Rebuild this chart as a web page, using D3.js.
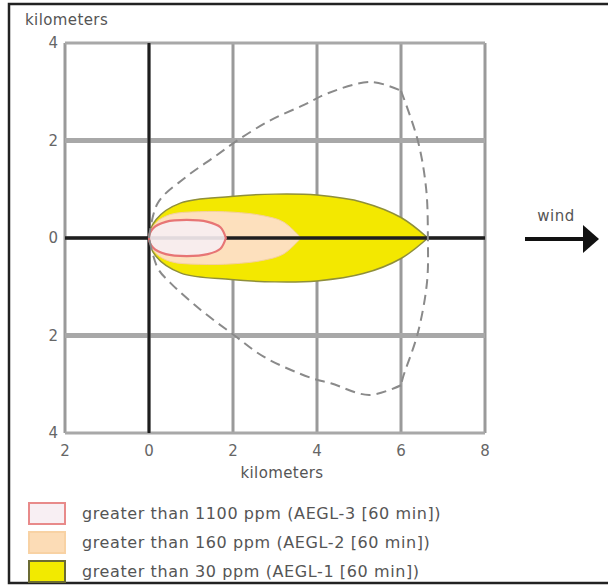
<!DOCTYPE html>
<html>
<head>
<meta charset="utf-8">
<script src="https://cdn.jsdelivr.net/npm/d3@7"></script>
<style>
  body { margin: 0; background: #fff; }
  svg { display: block; }
</style>
</head>
<body>
<div id="chart"></div>
<script>
"use strict";

// ticks (km)
const xTicks = [-2, 0, 2, 4, 6, 8]
const yTicks = [-4, -2, 0, 2, 4]

// threat zones, half width of the plume along the wind (km)
const aegl1 = [[0,0],[0.17,0.38],[0.76,0.72],[1.95,0.85],[3.0,0.9],[4.0,0.88],[5.1,0.73],[6.0,0.42],[6.64,0]]
const aegl2 = [[0,0],[0.15,0.3],[0.5,0.48],[1.2,0.54],[2.0,0.53],[2.7,0.46],[3.2,0.33],[3.62,0]]
const aegl3 = [[0,0],[0.1,0.2],[0.4,0.33],[0.9,0.37],[1.4,0.33],[1.7,0.22],[1.83,0]]

// confidence lines (dashed), split at the corners
const confUpper = [[0,0],[0.21,0.72],[0.88,1.25],[1.55,1.66],[2.12,2.01],[2.9,2.42],[3.69,2.73],[4.26,2.97],[5.29,3.2],[6.0,3.02]]
const confRight = [[6.0,3.02],[6.4,2.0],[6.6,1.0],[6.64,0],[6.62,-0.9],[6.4,-1.95],[6.05,-2.85],[6.0,-3.02]]
const confLower = [[6.0,-3.02],[5.24,-3.22],[4.33,-2.98],[3.86,-2.87],[2.74,-2.44],[2.02,-1.99],[1.24,-1.48],[0.52,-0.93],[0.21,-0.62],[0,0]]

const legendLabels = ["greater than 1100 ppm (AEGL-3 [60 min])",
  "greater than 160 ppm (AEGL-2 [60 min])",
  "greater than 30 ppm (AEGL-1 [60 min])"]

const width = 608, height = 587
const font = "'DejaVu Sans', Verdana, sans-serif"

const svg = d3.select("#chart").append("svg")
  .attr("width", width)
  .attr("height", height)

// outer frame
svg.append("rect")
  .attr("x", 9).attr("y", 4)
  .attr("width", 610).attr("height", 579)
  .attr("fill", "#fff")
  .attr("stroke", "#222")
  .attr("stroke-width", 2.5)

const x = d3.scaleLinear().domain([-2, 8]).range([65, 485])
const y = d3.scaleLinear().domain([-4, 4]).range([433, 43])

// grid
const grid = svg.append("g")
grid.selectAll(".vx").data(xTicks).join("line")
  .attr("x1", d => x(d)).attr("x2", d => x(d))
  .attr("y1", y(4)).attr("y2", y(-4))
  .attr("stroke", "#9a9a9a").attr("stroke-width", 3)
grid.selectAll(".hy").data(yTicks).join("line")
  .attr("y1", d => y(d)).attr("y2", d => y(d))
  .attr("x1", x(-2)).attr("x2", x(8))
  .attr("stroke", "#a8a8a8").attr("stroke-width", d => Math.abs(d) == 2 ? 5 : 3)

// plume shapes, mirrored around the wind axis
const plume = pts => pts.map(p => [p[0], p[1]])
  .concat(pts.slice().reverse().map(p => [p[0], -p[1]]))
const line = d3.line()
  .x(d => x(d[0])).y(d => y(d[1]))
  .curve(d3.curveCatmullRomClosed)

svg.append("path")
  .attr("d", line(plume(aegl1).slice(0, -1)))
  .attr("fill", "#f3e800")
  .attr("stroke", "#8f8f3a")
  .attr("stroke-width", 1.5)

svg.append("path")
  .attr("d", line(plume(aegl2).slice(0, -1)))
  .attr("fill", "#fde0bd")
  .attr("stroke", "#f4cfa0")
  .attr("stroke-width", 1)

// axes through origin
svg.append("line")
  .attr("x1", x(-2)).attr("x2", x(8))
  .attr("y1", y(0)).attr("y2", y(0))
  .attr("stroke", "#1e1e1e").attr("stroke-width", 3.5)
svg.append("line")
  .attr("x1", x(0)).attr("x2", x(0))
  .attr("y1", y(4)).attr("y2", y(-4))
  .attr("stroke", "#1e1e1e").attr("stroke-width", 3)

svg.append("path")
  .attr("d", line(plume(aegl3).slice(0, -1)))
  .attr("fill", "#f7eef2")
  .attr("fill-opacity", 0.9)
  .attr("stroke", "#e77575")
  .attr("stroke-width", 2.2)

// dashed confidence envelope
const open = d3.line()
  .x(d => x(d[0])).y(d => y(d[1]))
  .curve(d3.curveCatmullRom)
svg.append("g").selectAll("path").data([confUpper, confRight, confLower]).join("path")
  .attr("d", d => open(d))
  .attr("fill", "none").attr("stroke", "#8a8a8a")
  .attr("stroke-width", 2).attr("stroke-dasharray", "10,6")

// tick labels
svg.append("g").selectAll("text").data(xTicks).join("text")
  .attr("x", d => x(d)).attr("y", 456)
  .attr("text-anchor", "middle")
  .style("font", "15px " + font).attr("fill", "#666")
  .text(d => Math.abs(d))
svg.append("g").selectAll("text").data(yTicks).join("text")
  .attr("x", 58).attr("y", d => y(d) + 5)
  .attr("text-anchor", "end")
  .style("font", "15px " + font).attr("fill", "#666")
  .text(d => Math.abs(d))

svg.append("text")
  .attr("x", 25).attr("y", 25)
  .style("font", "15px " + font).style("letter-spacing", "0.4px").attr("fill", "#555")
  .text("kilometers")
svg.append("text")
  .attr("x", 282).attr("y", 478)
  .attr("text-anchor", "middle")
  .style("font", "15px " + font).style("letter-spacing", "0.4px").attr("fill", "#555")
  .text("kilometers")

// wind arrow
svg.append("text")
  .attr("x", 556).attr("y", 221)
  .attr("text-anchor", "middle")
  .style("font", "15px " + font).style("letter-spacing", "0.5px").attr("fill", "#555")
  .text("wind")
svg.append("line")
  .attr("x1", 525).attr("x2", 586)
  .attr("y1", 239).attr("y2", 239)
  .attr("stroke", "#111").attr("stroke-width", 4)
svg.append("path")
  .attr("d", "M583,225 L599,239 L583,253 Z")
  .attr("fill", "#111")

// legend
const legFill = ["#f8eff3", "#fcdcb6", "#f2ea00"]
const legStroke = ["#e88a8a", "#f8d2a4", "#6b6b34"]
const leg = svg.append("g").selectAll("g").data(legendLabels).join("g")
  .attr("transform", (d, i) => `translate(0,${502 + i * 29})`)
leg.append("rect")
  .attr("x", 29).attr("y", 1)
  .attr("width", 36).attr("height", 21)
  .attr("fill", (d, i) => legFill[i])
  .attr("stroke", (d, i) => legStroke[i])
  .attr("stroke-width", 2)
leg.append("text")
  .attr("x", 82).attr("y", 17)
  .style("font", "16px " + font).style("letter-spacing", "0.6px").attr("fill", "#555")
  .text(d => d)
</script>
</body>
</html>
